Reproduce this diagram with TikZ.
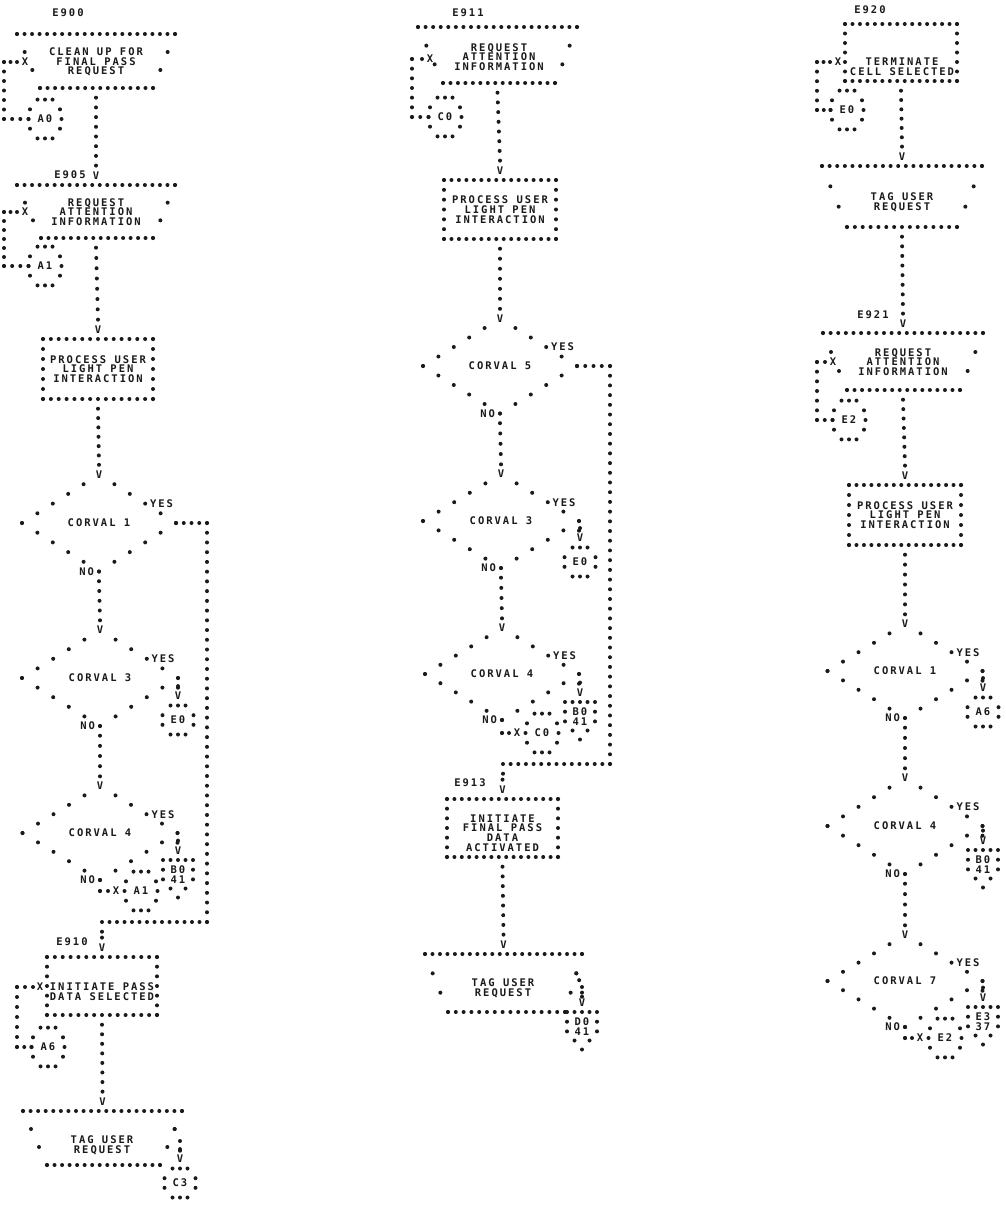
\documentclass[tikz,border=0pt]{standalone}
\usepackage{fontspec}
\usetikzlibrary{calc}
\newfontfamily\prt[LetterSpace=19]{DejaVu Sans Mono}
\definecolor{ink}{HTML}{1A1A1A}
\newcommand\dotr{2pt}
\newcount\vcnt
\newcommand\dlcount[3]{%
  \path let \p1=($(#2)-(#1)$) in \pgfextra{\pgfmathtruncatemacro\dlNt{max(1,round(veclen(\x1,\y1)/#3))}\xdef\dlN{\dlNt}};%
}
\newcommand\dotln[3]{%
  \dlcount{#1}{#2}{#3}%
  \foreach \i in {0,...,\dlN}{\fill[ink] ($(#1)!\i/\dlN!(#2)$) circle[radius=\dotr];}%
}
\newcommand\dotlnx[3]{%
  \dlcount{#1}{#2}{#3}%
  \pgfmathtruncatemacro\dlM{\dlN-1}%
  \foreach \i in {0,...,\dlM}{\fill[ink] ($(#1)!\i/\dlN!(#2)$) circle[radius=\dotr];}%
}
\newcommand\flow[3][9.7]{%
  \global\advance\vcnt by 1
  \coordinate (fa) at ($(#2)+(0,9.7)$);
  \coordinate (fb) at ($(#3)+(0,-#1-9.7)$);
  \dotln{fa}{fb}{9.7}%
  \node[txt] (v\the\vcnt) at ($(#3)+(0,-#1)$) {V};
}
\newcommand\rbox[1]{%
  \dotln{#1.north west}{#1.north east}{7.6}%
  \dotln{#1.south west}{#1.south east}{7.6}%
  \dotln{#1.north west}{#1.south west}{9.7}%
  \dotln{#1.north east}{#1.south east}{9.7}%
}
\newcommand\trap[3]{%
  \coordinate (#1bl) at ($(#1.south west)+(#2,0)$);
  \coordinate (#1br) at ($(#1.south east)+(-#3,0)$);
  \dotln{#1.north west}{#1.north east}{7.6}%
  \dotln{#1bl}{#1br}{7.6}%
  \dotln{#1.north west}{#1bl}{19}%
  \dotln{#1.north east}{#1br}{19}%
}
\newcommand\dmd[1]{%
  \dotlnx{#1.west}{#1.north}{18}%
  \dotlnx{#1.east}{#1.north}{18}%
  \dotln{#1.west}{#1.south}{18}%
  \dotln{#1.east}{#1.south}{18}%
}
\newcommand\octA[1]{\begin{scope}[shift={(#1.center)}]
  \foreach \x/\y in {-7.5/-19.4,0/-19.4,7.5/-19.4,-15/-9.7,15/-9.7,-16.5/0,16.5/0,-15/9.7,15/9.7,-7.5/19.4,0/19.4,7.5/19.4}{\fill[ink] (\x,\y) circle[radius=\dotr];}
  \end{scope}}
\newcommand\octB[1]{\begin{scope}[shift={(#1.center)}]
  \foreach \x/\y in {-7.5/-14.5,0/-14.5,7.5/-14.5,-15.5/-4.8,15.5/-4.8,-15.5/4.8,15.5/4.8,-7.5/14.5,0/14.5,7.5/14.5}{\fill[ink] (\x,\y) circle[radius=\dotr];}
  \end{scope}}
\newcommand\pent[1]{\begin{scope}[shift={(#1.north)}]
  \foreach \x/\y in {-15/0,-7.5/0,0/0,7.5/0,15/0,-15/9.7,15/9.7,-15/19.4,15/19.4,-7.5/28.5,7.5/28.5,0/37.5}{\fill[ink] (\x,\y) circle[radius=\dotr];}
  \end{scope}}
\tikzset{
  txt/.style={font={\prt\bfseries\fontsize{10.5}{9.7}\selectfont}, text=ink, inner sep=0pt, outer sep=0pt, align=center},
  shp/.style={shape=rectangle, inner sep=0pt, outer sep=0pt},
  conA/.style={txt, shp, minimum width=33, minimum height=38.8},
  conB/.style={txt, shp, minimum width=33, minimum height=29},
  offp/.style={txt, shp, minimum width=30, minimum height=29, anchor=north},
}
\begin{document}
\begin{tikzpicture}[x=1pt,y=-1pt]
\fill[white] (0,0) rectangle (1005,1205);
\useasboundingbox (0,0) rectangle (1005,1205);

% ================= LEFT COLUMN =================
\node[txt] (lE900) at (68,13) {E900};
\node[shp, minimum width=158, minimum height=54] (T1) at (96,61) {};
\trap{T1}{23}{22}
\node[txt] (T1t) at (96,62) {CLEAN UP FOR\\FINAL PASS\\REQUEST};
\node[txt] (X1) at (25,62) {X};
\node[conA] (cA0) at (45,119) {A0}; \octA{cA0}
\dotln{17,62}{4,62}{7.6}
\dotln{4,62}{4,119}{9.7}
\dotln{4,119}{cA0.west}{7.6}

\node[txt] (lE905) at (70,175) {E905};
\node[shp, minimum width=158, minimum height=53] (T2) at (96,211.5) {};
\trap{T2}{24}{22}
\node[txt] (T2t) at (96,212) {REQUEST\\ATTENTION\\INFORMATION};
\node[txt] (X2) at (25,212) {X};
\node[conA] (cA1) at (45,266) {A1}; \octA{cA1}
\dotln{17,212}{4,212}{7.6}
\dotln{4,212}{4,266}{9.7}
\dotln{4,266}{cA1.west}{7.6}

\node[txt, shp, minimum width=110, minimum height=60] (P1) at (98,369) {PROCESS USER\\LIGHT PEN\\INTERACTION};
\rbox{P1}

\node[txt, shp, minimum width=154, minimum height=97] (D1) at (99,523) {CORVAL 1};
\dmd{D1}
\node[txt, anchor=west] (y1) at (150,503.6) {YES};
\node[txt, anchor=east] (n1) at (94,572) {NO};
\dotln{D1.east}{207,523}{7.6}
\dotln{207,523}{207,922}{9.7}
\dotln{207,922}{102,922}{7.6}
\coordinate (J1) at (102,922);

\node[txt, shp, minimum width=156, minimum height=96] (D3) at (100,678) {CORVAL 3};
\dmd{D3}
\node[txt, anchor=west] (y3) at (151.5,658.8) {YES};
\node[txt, anchor=east] (n3) at (95,726) {NO};
\node[conB] (cE0a) at (178,720) {E0}; \octB{cE0a}

\node[txt, shp, minimum width=155, minimum height=94] (D4) at (100,833) {CORVAL 4};
\dmd{D4}
\node[txt, anchor=west] (y4) at (151.5,814.2) {YES};
\node[txt, anchor=east] (n4) at (95,880) {NO};
\node[offp] (pB0a) at (178,860) {B0\\41}; \pent{pB0a}
\dotln{D4.south}{100,891}{9.7}
\dotln{100,891}{108,891}{7.6}
\node[txt] (X4a) at (116,891) {X};
\node[conA] (cA1b) at (141,891) {A1}; \octA{cA1b}

\node[txt] (lE910) at (72,942) {E910};
\node[shp, minimum width=110, minimum height=58] (P3) at (102,986) {};
\rbox{P3}
\node[txt] (P3t) at (102,992) {INITIATE PASS\\DATA SELECTED};
\node[txt] (X3) at (40,987) {X};
\node[conA] (cA6) at (48,1047) {A6}; \octA{cA6}
\dotln{33,987}{17,987}{7.6}
\dotln{17,987}{17,1047}{9.7}
\dotln{17,1047}{cA6.west}{7.6}

\node[shp, minimum width=159, minimum height=54] (T3) at (102.5,1138) {};
\trap{T3}{24}{22}
\node[txt] (T3t) at (102,1145) {TAG USER\\REQUEST};
\coordinate (T3x) at ($(T3.north east)!1/3!(T3br)$);
\coordinate (e3) at (180,1141);
\dotln{T3x}{e3}{9.7}
\node[conB] (cC3) at (180,1183) {C3}; \octB{cC3}

% ================= MIDDLE COLUMN =================
\node[txt] (lE911) at (468,13) {E911};
\node[shp, minimum width=159, minimum height=56] (T4) at (497.5,55) {};
\trap{T4}{25}{22}
\node[txt] (T4t) at (499,57) {REQUEST\\ATTENTION\\INFORMATION};
\node[txt] (X4) at (430,59) {X};
\node[conA] (cC0) at (445,117) {C0}; \octA{cC0}
\dotln{422,59}{412,59}{7.6}
\dotln{412,59}{412,117}{9.7}
\dotln{412,117}{cC0.west}{7.6}

\node[txt, shp, minimum width=112, minimum height=59] (P2) at (500,209.5) {PROCESS USER\\LIGHT PEN\\INTERACTION};
\rbox{P2}

\node[txt, shp, minimum width=154, minimum height=95] (D5) at (500,366) {CORVAL 5};
\dmd{D5}
\node[txt, anchor=west] (y5) at (551,347) {YES};
\node[txt, anchor=east] (n5) at (495,413.5) {NO};
\dotln{D5.east}{610,366}{7.6}
\dotln{610,366}{610,764}{9.7}
\dotln{610,764}{503,764}{7.6}
\coordinate (J2) at (503,764);

\node[txt, shp, minimum width=156, minimum height=94] (D6) at (501,521) {CORVAL 3};
\dmd{D6}
\node[txt, anchor=west] (y6) at (552.5,502.2) {YES};
\node[txt, anchor=east] (n6) at (496,568) {NO};
\node[conB] (cE0b) at (580,562) {E0}; \octB{cE0b}

\node[txt, shp, minimum width=154, minimum height=92] (D7) at (502,674) {CORVAL 4};
\dmd{D7}
\node[txt, anchor=west] (y7) at (553,655.6) {YES};
\node[txt, anchor=east] (n7) at (497,720) {NO};
\node[offp] (pB0b) at (580,702) {B0\\41}; \pent{pB0b}
\dotln{D7.south}{502,733}{9.7}
\dotln{502,733}{509,733}{7.6}
\node[txt] (X7) at (517,733) {X};
\node[conA] (cC0b) at (542,733) {C0}; \octA{cC0b}

\node[txt] (lE913) at (470,783) {E913};
\node[shp, minimum width=111, minimum height=58] (P4) at (502.5,828) {};
\rbox{P4}
\node[txt] (P4t) at (502.5,833) {INITIATE\\FINAL PASS\\DATA\\ACTIVATED};

\node[shp, minimum width=157, minimum height=58] (T5) at (503.5,983) {};
\trap{T5}{23}{17}
\node[txt] (T5t) at (503,988) {TAG USER\\REQUEST};
\coordinate (T5x) at ($(T5.north east)!1/3!(T5br)$);
\coordinate (e5) at (582,987);
\dotln{T5x}{e5}{9.7}
\node[offp] (pD0) at (582,1012) {D0\\41}; \pent{pD0}

% ================= RIGHT COLUMN =================
\node[txt] (lE920) at (870,10) {E920};
\node[shp, minimum width=112, minimum height=57] (R1) at (901,52.5) {};
\rbox{R1}
\node[txt] (R1t) at (902,67) {TERMINATE\\CELL SELECTED};
\node[txt] (X5) at (838,62) {X};
\node[conA] (cE0c) at (847,110) {E0}; \octA{cE0c}
\dotln{830,62}{817,62}{7.6}
\dotln{817,62}{817,110}{9.7}
\dotln{817,110}{cE0c.west}{7.6}

\node[shp, minimum width=160, minimum height=61] (T6) at (902,196.5) {};
\trap{T6}{25}{25}
\node[txt] (T6t) at (902,202) {TAG USER\\REQUEST};

\node[txt] (lE921) at (873,315) {E921};
\node[shp, minimum width=160, minimum height=57] (T7) at (903,361.5) {};
\trap{T7}{24}{23}
\node[txt] (T7t) at (903,362) {REQUEST\\ATTENTION\\INFORMATION};
\node[txt] (X6) at (833,362) {X};
\node[conA] (cE2) at (849,420) {E2}; \octA{cE2}
\dotln{825,362}{817,362}{7.6}
\dotln{817,362}{817,420}{9.7}
\dotln{817,420}{cE2.west}{7.6}

\node[txt, shp, minimum width=112, minimum height=60] (P5) at (905,515) {PROCESS USER\\LIGHT PEN\\INTERACTION};
\rbox{P5}

\node[txt, shp, minimum width=155, minimum height=94] (D8) at (905,671) {CORVAL 1};
\dmd{D8}
\node[txt, anchor=west] (y8) at (956.5,652.2) {YES};
\node[txt, anchor=east] (n8) at (900,718) {NO};
\node[conB] (cA6b) at (983,712) {A6}; \octB{cA6b}

\node[txt, shp, minimum width=155, minimum height=96] (D9) at (905,826) {CORVAL 4};
\dmd{D9}
\node[txt, anchor=west] (y9) at (956.5,806.8) {YES};
\node[txt, anchor=east] (n9) at (900,874) {NO};
\node[offp] (pB0c) at (983,850) {B0\\41}; \pent{pB0c}

\node[txt, shp, minimum width=155, minimum height=92] (D10) at (905,981) {CORVAL 7};
\dmd{D10}
\node[txt, anchor=west] (y10) at (956.5,962.6) {YES};
\node[txt, anchor=east] (n10) at (900,1027) {NO};
\node[offp] (pE3) at (983,1007) {E3\\37}; \pent{pE3}
\dotln{D10.south}{905,1038}{9.7}
\dotln{905,1038}{912,1038}{7.6}
\node[txt] (X10) at (920,1038) {X};
\node[conA] (cE2b) at (945,1038) {E2}; \octA{cE2b}

% ================= FLOW CONNECTORS =================
\flow{T1.south}{T2.north}
\flow{T2.south}{P1.north}
\flow[0]{P1.south}{D1.north}
\flow[0]{D1.south}{D3.north}
\flow{D3.east}{cE0a.north}
\flow[0]{D3.south}{D4.north}
\flow{D4.east}{pB0a.north}
\flow{J1}{P3.north}
\flow{P3.south}{T3.north}
\flow{e3}{cC3.north}

\flow{T4.south}{P2.north}
\flow[0]{P2.south}{D5.north}
\flow[0]{D5.south}{D6.north}
\flow{D6.east}{cE0b.north}
\flow[0]{D6.south}{D7.north}
\flow{D7.east}{pB0b.north}
\flow{J2}{P4.north}
\flow{P4.south}{T5.north}
\flow{e5}{pD0.north}

\flow{R1.south}{T6.north}
\flow{T6.south}{T7.north}
\flow{T7.south}{P5.north}
\flow[0]{P5.south}{D8.north}
\flow{D8.east}{cA6b.north}
\flow[0]{D8.south}{D9.north}
\flow{D9.east}{pB0c.north}
\flow[0]{D9.south}{D10.north}
\flow{D10.east}{pE3.north}
\end{tikzpicture}
\end{document}
